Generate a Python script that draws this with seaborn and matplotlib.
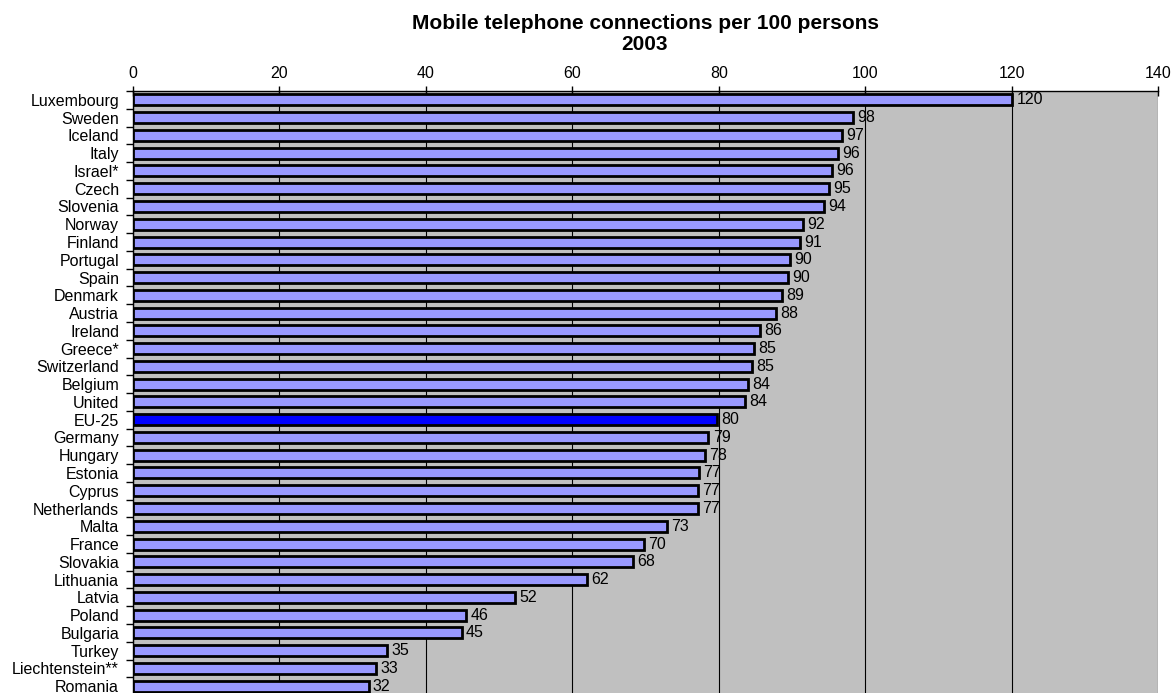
import matplotlib
matplotlib.use("Agg")
import matplotlib.pyplot as plt
import seaborn as sns
import numpy as np
import pandas as pd

countries = ["Luxembourg", "Sweden", "Iceland", "Italy", "Israel*", "Czech", "Slovenia",
             "Norway", "Finland", "Portugal", "Spain", "Denmark", "Austria", "Ireland",
             "Greece*", "Switzerland", "Belgium", "United", "EU-25", "Germany", "Hungary",
             "Estonia", "Cyprus", "Netherlands", "Malta", "France", "Slovakia", "Lithuania",
             "Latvia", "Poland", "Bulgaria", "Turkey", "Liechtenstein**", "Romania"]
values = [120.1, 98.4, 96.9, 96.3, 95.5, 95.1, 94.4,
          91.5, 91.1, 89.8, 89.5, 88.6, 87.8, 85.7,
          84.8, 84.6, 84.0, 83.6, 79.8, 78.6, 78.1,
          77.3, 77.2, 77.2, 72.9, 69.8, 68.3, 62.0,
          52.2, 45.5, 44.9, 34.7, 33.2, 32.2]
title = "Mobile telephone connections per 100 persons\n2003"
highlight = "EU-25"

df = pd.DataFrame({"country": countries, "value": values})
palette = {c: ("#0000FF" if c == highlight else "#9999FF") for c in countries}

sns.set_style("white")
plt.rcParams["font.family"] = ["Liberation Sans", "DejaVu Sans"]
plt.rcParams["text.color"] = "black"
plt.rcParams["xtick.color"] = "black"
plt.rcParams["ytick.color"] = "black"
plt.rcParams["axes.labelcolor"] = "black"

fig = plt.figure(figsize=(11.73, 6.93), dpi=100)
ax = fig.add_axes([133 / 1173, -0.003, (1158 - 133) / 1173, 1 - 91 / 693 + 0.003])
ax.set_facecolor("#C0C0C0")

sns.barplot(data=df, x="value", y="country", hue="country", palette=palette,
            legend=False, orient="h", width=0.62, edgecolor="black", linewidth=2,
            saturation=1, ax=ax, zorder=3)

for cont in ax.containers:
    ax.bar_label(cont, labels=[f"{v:.0f}" for v in cont.datavalues], padding=3,
                 fontsize=11.5, color="black")

ax.set_xlim(0, 140)
ax.set_ylim(len(countries) - 0.5, -0.5)
ax.set_xticks(np.arange(0, 141, 20))
ax.xaxis.tick_top()
ax.tick_params(axis="x", which="major", direction="inout", length=7, width=1,
               labelsize=11.5, pad=4, top=True, bottom=False, colors="black")
ax.xaxis.grid(True, color="black", linewidth=0.8)
ax.yaxis.grid(False)
ax.set_axisbelow(True)

ax.set_yticks(np.arange(len(countries)))
ax.set_yticklabels(countries)
ax.set_yticks(np.arange(-0.5, len(countries), 1), minor=True)
ax.tick_params(axis="y", which="major", length=0, labelsize=11.5, pad=10, colors="black")
ax.tick_params(axis="y", which="minor", direction="out", length=5, width=1, left=True,
               colors="black")

ax.set_xlabel("")
ax.set_ylabel("")
for s in ["right", "bottom"]:
    ax.spines[s].set_visible(False)
for s in ["top", "left"]:
    ax.spines[s].set_color("black")
    ax.spines[s].set_linewidth(1)

fig.text(645 / 1173, 1 - 14 / 693, title, ha="center", va="top", fontsize=15,
         fontweight="bold", linespacing=1.15, color="black")

fig.savefig("out.png", dpi=100)
